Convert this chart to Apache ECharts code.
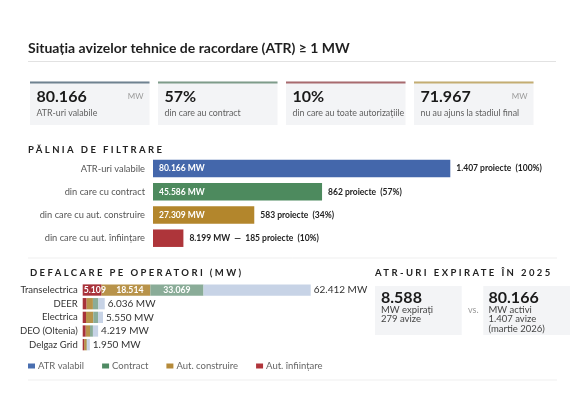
<!DOCTYPE html>
<html><head><meta charset="utf-8">
<script src="https://cdn.jsdelivr.net/npm/echarts@6/dist/echarts.min.js"></script>
<style>html,body{margin:0;padding:0;background:#fff}#c{width:585px;height:413px}</style>
</head><body><div id="c"></div>
<script>
// ---------- data ----------
const funnelCats = ['ATR-uri valabile', 'din care cu contract', 'din care cu aut. construire', 'din care cu aut. înființare'];
const funnelMW = [80166, 45586, 27309, 8199];
const funnelProjects = [1407, 862, 583, 185];
const funnelPct = [100, 57, 34, 10];

const operators = ['Transelectrica', 'DEER', 'Electrica', 'DEO (Oltenia)', 'Delgaz Grid'];
const opATR = [62412, 6036, 5550, 4219, 1950];
const opContract = [33069, 4300, 4200, 2800, 1200];
const opConstruire = [18514, 2800, 2900, 2000, 1100];
const opInfiintare = [5109, 1000, 900, 800, 400];
const opSeriesNames = ['ATR valabil', 'Contract', 'Aut. construire', 'Aut. înființare'];

const kpiValues = ['80.166', '57%', '10%', '71.967'];
const kpiUnits = ['MW', '', '', 'MW'];
const kpiLabels = ['ATR-uri valabile', 'din care au contract', 'din care au toate autorizațiile', 'nu au ajuns la stadiul final'];

const expiredValue = '8.588';
const expiredLines = ['MW expirați', '279 avize'];
const activeValue = '80.166';
const activeLines = ['MW activi', '1.407 avize', '(martie 2026)'];

const titleText = 'Situația avizelor tehnice de racordare (ATR) ≥ 1 MW';
const funnelTitle = 'PĂLNIA DE FILTRARE';
const opTitle = 'DEFALCARE PE OPERATORI (MW)';
const expTitle = 'ATR-URI EXPIRATE ÎN 2025';

// ---------- helpers ----------
const fmt = n => String(n).replace(/\B(?=(\d{3})+(?!\d))/g, '.');
const FONT = 'Lato, "Open Sans", sans-serif';

// letter-spaced section titles (canvas letterSpacing, scoped with save/restore)
const spacing = new Map([[funnelTitle, '2.4px'], [opTitle, '2.4px'], [expTitle, '2.4px']]);
const origFill = CanvasRenderingContext2D.prototype.fillText;
CanvasRenderingContext2D.prototype.fillText = function (t, x, y, w) {
  if (spacing.has(t)) {
    this.save();
    this.letterSpacing = spacing.get(t);
    if (w === undefined) origFill.call(this, t, x, y); else origFill.call(this, t, x, y, w);
    this.restore();
    return;
  }
  if (w === undefined) origFill.call(this, t, x, y); else origFill.call(this, t, x, y, w);
};

const funnelColors = ['#4467ab', '#4d8a5e', '#b3862c', '#ae353a'];
const legendColors = ['#4a6fb0', '#4f8a63', '#b58a3a', '#b0353b'];

// ---------- graphic ----------
const g = [];
function txt(x, y, text, o) {
  g.push({ type: 'text', x: x, y: y, silent: true, z: 10,
    style: Object.assign({ text: text, font: '9.5px ' + FONT, fill: '#333', align: 'left', verticalAlign: 'middle' }, o || {}) });
}
function rect(x, y, w, h, fill) {
  g.push({ type: 'rect', shape: { x: x, y: y, width: w, height: h }, style: { fill: fill }, silent: true, z: 1 });
}
function hline(x1, x2, y, c) {
  g.push({ type: 'line', shape: { x1: x1, y1: y, x2: x2, y2: y }, style: { stroke: c, lineWidth: 1 }, silent: true, z: 1 });
}

txt(28, 48, titleText, { font: 'bold 14px ' + FONT, fill: '#1f1f1f' });
hline(28, 556, 61.5, '#e2e2e2');

const cardTop = ['#6f8290', '#7e9c8a', '#a86a6e', '#c4ad72'];
for (let i = 0; i < 4; i++) {
  const cx = 30 + i * 128, cw = 119.5;
  rect(cx, 81.5, cw, 43.5, '#f3f4f6');
  rect(cx, 81.5, cw, 2, cardTop[i]);
  txt(cx + 6.5, 97, kpiValues[i], { font: 'bold 16px ' + FONT, fill: '#1a1a1a' });
  if (kpiUnits[i]) txt(cx + cw - 6, 96, kpiUnits[i], { font: '8px ' + FONT, fill: '#9a9a9a', align: 'right' });
  txt(cx + 6.5, 113.5, kpiLabels[i], { font: '8.8px ' + FONT, fill: '#5f5f5f' });
}

txt(28, 149.5, funnelTitle, { font: 'bold 9.5px ' + FONT, fill: '#222' });

hline(28, 557, 258, '#efefef');
hline(28, 557, 380, '#efefef');
txt(30, 272.5, opTitle, { font: 'bold 9.5px ' + FONT, fill: '#222' });
txt(375, 272.5, expTitle, { font: 'bold 9.5px ' + FONT, fill: '#222' });

rect(375, 286, 86.7, 49, '#f3f4f6');
rect(483.3, 286, 86.7, 49, '#f3f4f6');
txt(381, 297.5, expiredValue, { font: 'bold 16px ' + FONT, fill: '#1a1a1a' });
expiredLines.forEach((s, i) => txt(381, 310 + i * 9.3, s, { font: '9.5px ' + FONT, fill: '#444' }));
txt(468, 310, 'vs.', { font: '9px ' + FONT, fill: '#999' });
txt(488.5, 297.5, activeValue, { font: 'bold 16px ' + FONT, fill: '#1a1a1a' });
activeLines.forEach((s, i) => txt(488.5, 310 + i * 9.3, s, { font: '9.5px ' + FONT, fill: '#444' }));

// ---------- operator segments (stacked, cumulative values from arrays) ----------
const segRed = opInfiintare.slice();
const segGold = opConstruire.map((v, i) => v - opInfiintare[i]);
const segGreen = opContract.map((v, i) => v - opConstruire[i]);
const segBlue = opATR.map((v, i) => v - opContract[i]);

const inLabel = (arr, extra) => Object.assign({
  show: true, position: 'inside', color: '#fff', fontWeight: 'bold', fontSize: 8.7, fontFamily: FONT,
  formatter: p => p.dataIndex === 0 ? fmt(arr[p.dataIndex]) : ''
}, extra || {});

const option = {
  animation: false,
  backgroundColor: '#fff',
  graphic: g,
  legend: {
    left: 28, top: 361, padding: 0, itemWidth: 7, itemHeight: 5, itemGap: 18,
    icon: 'rect', selectedMode: false,
    textStyle: { fontSize: 9.5, color: '#666', fontFamily: FONT, padding: [0, 0, 0, -2] },
    data: opSeriesNames.map((n, i) => ({ name: n, itemStyle: { color: legendColors[i], opacity: 1 } }))
  },
  grid: [
    { left: 153, top: 157, width: 297.3, height: 92.8, containLabel: false },
    { left: 82.7, top: 283.2, width: 228, height: 68.3, containLabel: false }
  ],
  xAxis: [
    { gridIndex: 0, type: 'value', min: 0, max: 'dataMax', show: false },
    { gridIndex: 1, type: 'value', min: 0, max: 'dataMax', show: false }
  ],
  yAxis: [
    { gridIndex: 0, type: 'category', inverse: true, data: funnelCats,
      axisLine: { show: false }, axisTick: { show: false }, splitLine: { show: false },
      axisLabel: { margin: 8, color: '#555', fontSize: 9.3, fontFamily: FONT } },
    { gridIndex: 1, type: 'category', inverse: true, data: operators,
      axisLine: { show: false }, axisTick: { show: false }, splitLine: { show: false },
      axisLabel: { margin: 5, color: '#333', fontSize: 9.5, fontFamily: FONT } }
  ],
  series: [
    { type: 'bar', xAxisIndex: 0, yAxisIndex: 0, barWidth: 17.5, silent: true,
      data: funnelMW.map((v, i) => ({ value: v, itemStyle: { color: funnelColors[i] } })),
      label: { show: true, position: 'insideLeft', distance: 6, color: '#fff', fontWeight: 'bold', fontSize: 8.5, fontFamily: FONT,
        formatter: p => p.dataIndex < 3 ? fmt(funnelMW[p.dataIndex]) + ' MW' : '' } },
    { type: 'bar', xAxisIndex: 0, yAxisIndex: 0, barWidth: 17.5, barGap: '-100%', silent: true,
      data: funnelMW, itemStyle: { color: 'rgba(0,0,0,0)' },
      label: { show: true, position: 'right', distance: 6, color: '#222', fontWeight: 'bold', fontSize: 8.5, fontFamily: FONT,
        formatter: p => {
          const i = p.dataIndex;
          const tail = fmt(funnelProjects[i]) + ' proiecte  (' + funnelPct[i] + '%)';
          return i < 3 ? tail : fmt(funnelMW[i]) + ' MW  —  ' + tail;
        } } },
    { name: 'Aut. înființare', type: 'bar', xAxisIndex: 1, yAxisIndex: 1, stack: 'op', barWidth: 11.3, silent: true,
      data: segRed, itemStyle: { color: '#a8323a' }, label: inLabel(opInfiintare, { position: 'insideLeft', distance: 1 }), z: 3 },
    { name: 'Aut. construire', type: 'bar', xAxisIndex: 1, yAxisIndex: 1, stack: 'op', barWidth: 11.3, silent: true,
      data: segGold, itemStyle: { color: '#b8934a' }, label: inLabel(opConstruire, { offset: [4, 0] }) },
    { name: 'Contract', type: 'bar', xAxisIndex: 1, yAxisIndex: 1, stack: 'op', barWidth: 11.3, silent: true,
      data: segGreen, itemStyle: { color: '#8aac98' }, label: inLabel(opContract) },
    { name: 'ATR valabil', type: 'bar', xAxisIndex: 1, yAxisIndex: 1, stack: 'op', barWidth: 11.3, silent: true,
      data: segBlue, itemStyle: { color: '#c7d3e6' },
      label: { show: true, position: 'right', distance: 3, color: '#333', fontSize: 10, fontFamily: FONT,
        formatter: p => fmt(opATR[p.dataIndex]) + ' MW' } }
  ]
};

const chart = echarts.init(document.getElementById('c'), null, { renderer: 'canvas' });
chart.setOption(option);
</script>
</body></html>
